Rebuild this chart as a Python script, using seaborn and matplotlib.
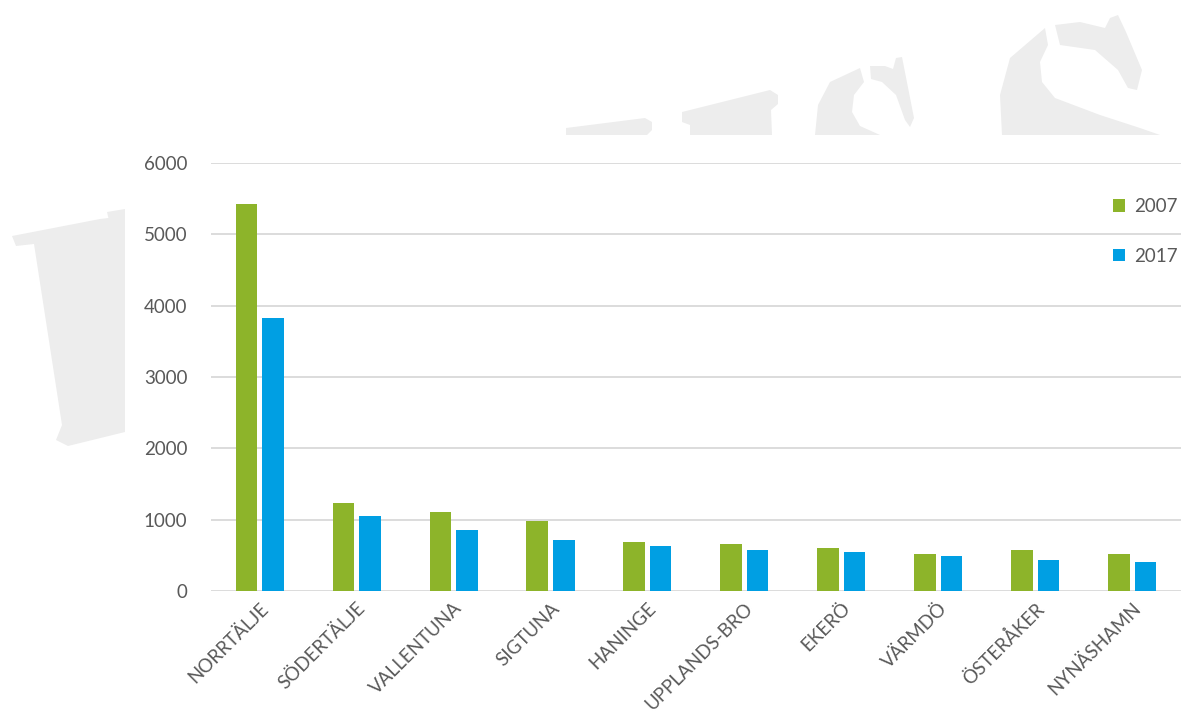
import pandas as pd
import seaborn as sns
import matplotlib.pyplot as plt
from matplotlib.patches import Polygon

# data
kommuner = ["NORRTÄLJE", "SÖDERTÄLJE", "VALLENTUNA", "SIGTUNA", "HANINGE",
            "UPPLANDS-BRO", "EKERÖ", "VÄRMDÖ", "ÖSTERÅKER", "NYNÄSHAMN"]
values_2007 = [5425, 1238, 1103, 982, 686, 658, 601, 521, 573, 521]
values_2017 = [3827, 1047, 860, 714, 630, 573, 545, 493, 437, 408]
years = ["2007", "2017"]

df = pd.DataFrame({
    "kommun": kommuner * 2,
    "year": [years[0]] * len(kommuner) + [years[1]] * len(kommuner),
    "value": values_2007 + values_2017,
})

GREEN = "#8DB42A"
BLUE = "#009FE3"
TEXT = "#595959"
GRID = "#D9D9D9"

sns.set_style("white")
plt.rcParams["font.family"] = ["Lato", "DejaVu Sans"]

fig = plt.figure(figsize=(11.89, 7.22), dpi=100)

# watermark shapes in the background (pixel coords)
bg = fig.add_axes([0, 0, 1, 1], zorder=0)
bg.set_xlim(0, 1189)
bg.set_ylim(722, 0)
bg.axis("off")
shapes = [
    [(566, 128), (645, 118), (652, 122), (652, 130), (647, 135), (566, 135)],
    [(682, 112), (770, 90), (778, 95), (778, 104), (771, 110), (772, 135),
     (690, 135), (690, 125), (682, 122)],
    [(815, 135), (818, 105), (830, 82), (860, 68), (864, 82), (854, 95),
     (852, 112), (860, 126), (880, 135)],
    [(870, 66), (885, 66), (893, 69), (896, 58), (902, 57), (914, 118),
     (910, 127), (905, 120), (896, 95), (882, 82), (871, 79)],
    [(1002, 135), (1000, 95), (1010, 58), (1045, 28), (1048, 45), (1040, 62),
     (1042, 82), (1055, 98), (1100, 115), (1140, 128), (1160, 135)],
    [(1055, 25), (1080, 22), (1105, 28), (1110, 18), (1118, 15), (1126, 32),
     (1142, 70), (1137, 90), (1128, 88), (1118, 70), (1095, 50), (1060, 45)],
    [(12, 236), (100, 219), (125, 216), (125, 432), (68, 446), (56, 440),
     (62, 425), (34, 244), (16, 246)],
    [(107, 212), (125, 209), (125, 232), (112, 233)],
]
for pts in shapes:
    bg.add_patch(Polygon(pts, closed=True, facecolor="#EDEDED", edgecolor="none"))

ax = fig.add_axes([0.1775, 0.1814, 0.8157, 0.5928], zorder=1)
ax.patch.set_alpha(0)

sns.barplot(
    data=df,
    x="kommun",
    y="value",
    hue="year",
    palette={"2007": GREEN, "2017": BLUE},
    saturation=1,
    width=0.55,
    gap=0.2,
    linewidth=0,
    ax=ax,
)

ax.set_ylim(0, 6000)
ax.set_yticks(range(0, 6001, 1000))
ax.set_xlim(-0.5, len(kommuner) - 0.5)
ax.set_xlabel("")
ax.set_ylabel("")
ax.grid(axis="y", color=GRID, linewidth=1.3)
ax.set_axisbelow(True)
for side in ["top", "right", "left", "bottom"]:
    ax.spines[side].set_visible(False)
ax.tick_params(axis="both", length=0, colors=TEXT, labelsize=13.5)
ax.tick_params(axis="y", pad=17)
ax.tick_params(axis="x", pad=6)
plt.setp(ax.get_xticklabels(), rotation=45, ha="right", rotation_mode="anchor")

handles, labels = ax.get_legend_handles_labels()
ax.legend(
    handles, labels,
    loc="upper left",
    bbox_to_anchor=(1096 / 1189, 1 - 181 / 722),
    bbox_transform=fig.transFigure,
    frameon=False,
    fontsize=13.5,
    labelcolor=TEXT,
    handlelength=0.65,
    handleheight=0.65,
    handletextpad=0.5,
    labelspacing=1.75,
)

fig.savefig("out.png", dpi=100)
